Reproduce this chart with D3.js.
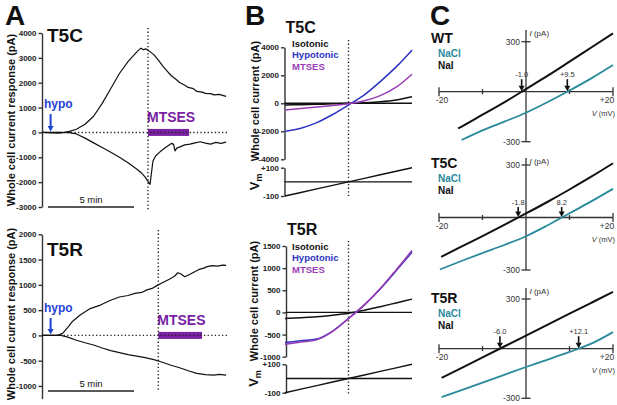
<!DOCTYPE html>
<html lang="en">
<head>
<meta charset="UTF-8">
<title>T5C / T5R hypotonic currents</title>
<script src="https://d3js.org/d3.v7.min.js"></script>
<style>
  body{margin:0;background:#fff;}
  svg text{font-family:"Liberation Sans",Arial,Helvetica,sans-serif;}
  .ax path,.ax line{stroke:#333;stroke-width:1.4;}
  .ax text{font-size:8px;font-weight:bold;fill:#222;}
  .dot{stroke:#222;stroke-width:1.4;stroke-dasharray:1.3,2.3;fill:none;}
  .b{font-weight:bold;}
</style>
</head>
<body>
<svg id="fig" width="617" height="405"></svg>
<script>
// ---------- A: whole cell current response (pA) vs time (min) ----------
const aT5cUpT = [0,0.5,1,1.3,1.6,2,2.5,3,3.5,4,4.5,5,5.3,5.6,5.75,5.9,6.05,6.2,6.5,6.8,7,7.3,7.5,7.8,8,8.3,8.5,8.8,9,9.3,9.5,9.8,10,10.3,10.5,10.7];
const aT5cUp  = [0,-20,-30,0,40,130,330,650,1170,1770,2370,2850,3080,3300,3390,3330,3360,3290,3130,2880,2690,2450,2290,2130,2010,1900,1810,1760,1650,1620,1570,1560,1510,1530,1490,1450];
const aT5cLoT = [0,1,1.6,2,2.5,3,3.5,4,4.5,5,5.5,5.75,6,6.15,6.28,6.35,6.45,6.6,6.86,7.2,7.54,7.65,7.73,7.85,8.02,8.3,8.6,8.9,9.2,9.5,9.8,10.1,10.4,10.7];
const aT5cLo  = [0,0,-10,-60,-230,-420,-610,-800,-1000,-1220,-1470,-1610,-1800,-1960,-2090,-1700,-1150,-950,-780,-600,-440,-480,-740,-620,-580,-500,-470,-420,-375,-430,-470,-400,-440,-390];
const aT5rUpT = [0,0.9,1.2,1.5,1.75,2.2,2.8,3.4,3.95,4.5,5,5.4,5.8,6.1,6.4,6.7,7,7.4,7.7,7.9,8.05,8.3,8.6,9.1,9.4,9.6,9.9,10.2,10.5,10.7];
const aT5rUp  = [0,0,40,160,270,400,530,600,690,760,790,830,850,900,930,990,1040,1110,1170,1240,1220,1160,1210,1300,1330,1360,1380,1370,1390,1385];
const aT5rLoT = [0,1.1,1.5,2,2.5,3,3.5,4,4.5,5,5.5,6,6.5,7,7.5,8,8.5,9,9.5,10,10.3,10.7];
const aT5rLo  = [0,0,-35,-95,-145,-190,-250,-300,-340,-380,-410,-440,-480,-530,-590,-640,-700,-750,-775,-785,-770,-785];
const aT5cTicks = [4000,3000,2000,1000,0,-1000,-2000,-3000];
const aT5rTicks = [2000,1500,1000,500,0,-500,-1000];
const hypoT = 0.5;
const mtsesT5c = [6.16,8.55];
const mtsesT5r = [6.76,9.3];
const scaleBarMin = [0.35,5.35];

// ---------- B: current during voltage ramp ----------
const rampV    = [-100,-75,-50,-25,0,25,50,75,100];
const bT5cIso  = [-120,-95,-70,-40,-5,40,110,240,470];
const bT5cHypo = [-2000,-1780,-1380,-800,-120,600,1550,2600,3800];
const bT5cMts  = [-480,-370,-260,-150,-30,180,550,1150,2080];
const bT5rIso  = [-136,-120,-100,-65,-20,50,130,215,300];
const bT5rHypo = [-680,-640,-600,-420,-135,170,530,940,1360];
const bT5rMts  = [-720,-670,-620,-430,-140,170,540,960,1400];
const bT5cTicks = [4000,2000,0,-2000,-4000];
const bT5rTicks = [1500,1000,500,0,-500,-1000];
const vmTicks = [100,-100];
const legendNames = ['Isotonic','Hypotonic','MTSES'];

// ---------- C: I-V in NaCl vs NaI ----------
const cWtNaIV   = [-15.6,-15,-10,-5,0,5,10,15,20];
const cWtNaI    = [-220,-212,-138,-64,16,96,180,265,350];
const cWtNaClV  = [-14.8,-10,-5,0,5,10,15,20];
const cWtNaCl   = [-290,-232,-180,-126,-62,7,80,160];
const cT5cNaIV  = [-19.5,-15,-10,-5,0,5,10,15,20];
const cT5cNaI   = [-225,-168,-106,-42,23,90,160,233,310];
const cT5cNaClV = [-19.8,-15,-10,-5,0,5,10,15,20];
const cT5cNaCl  = [-297,-250,-203,-157,-107,-44,24,92,164];
const cT5rNaIV  = [-19.4,-15,-10,-5,0,5,10,15,20];
const cT5rNaI   = [-177,-119,-53,13,79,145,211,277,343];
const cT5rNaClV = [-19.4,-15,-10,-5,0,5,10,15,20];
const cT5rNaCl  = [-293,-252,-205,-158,-111,-66,-20,30,100];
const cWtErev = [-1.0,9.5],  cWtErevLbl = ['-1.0','+9.5'];
const cT5cErev = [-1.8,8.2], cT5cErevLbl = ['-1.8','8.2'];
const cT5rErev = [-6.0,12.1], cT5rErevLbl = ['-6.0','+12.1'];

const BLUE = '#2d33c2', PURPLE = '#9a3cb4', HYPO = '#1e44d6', MTS = '#7a22a3', TEAL = '#2a8a9c';
const svg = d3.select('#fig');

function txt(g, x, y, s, size, opt){
  opt = opt || {};
  return g.append('text').attr('x',x).attr('y',y).text(s)
    .attr('font-size',size)
    .attr('font-weight',opt.bold ? 'bold' : 'normal')
    .attr('fill',opt.fill || '#111')
    .attr('text-anchor',opt.anchor || 'start')
    .attr('font-style',opt.italic ? 'italic' : null);
}
function rotLabel(g, x, y, s, size){
  return g.append('text').attr('transform','translate('+x+','+y+') rotate(-90)')
    .attr('text-anchor','middle').attr('font-size',size).attr('font-weight','bold')
    .attr('fill','#111').text(s);
}
function downArrow(g, x, y1, y2, color, w){
  g.append('line').attr('x1',x).attr('x2',x).attr('y1',y1).attr('y2',y2-4)
    .attr('stroke',color).attr('stroke-width',w);
  g.append('path').attr('d','M'+(x-3)+','+(y2-5.5)+'L'+(x+3)+','+(y2-5.5)+'L'+x+','+y2+'Z')
    .attr('fill',color);
}

// panel letters
txt(svg,5,25,'A',28,{bold:true});
txt(svg,245,25,'B',28,{bold:true});
txt(svg,430,25,'C',28,{bold:true});

// ---------- panel A ----------
const xA = d3.scaleLinear().domain([0,10.8]).range([42,227.8]);

function panelA(c){
  let g = svg.append('g');
  let y = d3.scaleLinear().domain(c.dom).range(c.rng);
  g.append('g').attr('class','ax').attr('transform','translate(42,0)')
    .call(d3.axisLeft(y).tickValues(c.ticks).tickSize(3.5).tickSizeOuter(0).tickPadding(2).tickFormat(d=>String(d)));
  rotLabel(g,15,c.labY,'Whole cell current response (pA)',11);
  txt(g,47,c.titleY,c.title,19,{bold:true});

  // MTSES bar + text
  g.append('rect').attr('x',xA(c.mts[0])).attr('width',xA(c.mts[1])-xA(c.mts[0]))
    .attr('y',y(0)-3.5).attr('height',7).attr('fill',MTS);
  txt(g,xA(c.mts[0])-1,y(0)-10,'MTSES',14,{bold:true,fill:MTS});
  // dotted zero line and application line
  g.append('line').attr('class','dot').attr('x1',xA(0)).attr('x2',xA(10.8)).attr('y1',y(0)).attr('y2',y(0));
  g.append('line').attr('class','dot').attr('x1',xA(c.mts[0])).attr('x2',xA(c.mts[0]))
    .attr('y1',c.vTop).attr('y2',c.vBot);

  let line = d3.line().x(d=>xA(d[0])).y(d=>y(d[1]));
  [d3.zip(c.upT,c.up), d3.zip(c.loT,c.lo)].forEach(d=>{
    g.append('path').datum(d).attr('d',line).attr('fill','none')
      .attr('stroke','#111').attr('stroke-width',1.2).attr('stroke-linejoin','round');
  });

  // hypo arrow
  txt(g,44,c.hypoY,'hypo',12,{bold:true,fill:HYPO});
  downArrow(g,xA(hypoT),c.hypoY+6,y(0)-1,HYPO,2);

  // 5 min scale bar
  g.append('line').attr('x1',xA(scaleBarMin[0])).attr('x2',xA(scaleBarMin[1]))
    .attr('y1',c.barY).attr('y2',c.barY).attr('stroke','#222').attr('stroke-width',1.3);
  txt(g,(xA(scaleBarMin[0])+xA(scaleBarMin[1]))/2,c.barY-4.5,'5 min',9.5,{anchor:'middle'});
}

panelA({dom:[-3000,4000],rng:[207,33],ticks:aT5cTicks,labY:120,title:'T5C',titleY:42,
  mts:mtsesT5c,vTop:28,vBot:210,upT:aT5cUpT,up:aT5cUp,loT:aT5cLoT,lo:aT5cLo,hypoY:108,barY:207});
panelA({dom:[-1250,2000],rng:[398.6,234.3],ticks:aT5rTicks,labY:314,title:'T5R',titleY:256,
  mts:mtsesT5r,vTop:230,vBot:390,upT:aT5rUpT,up:aT5rUp,loT:aT5rLoT,lo:aT5rLo,hypoY:312,barY:391});

// ---------- panel B ----------
const xB = d3.scaleLinear().domain([-100,100]).range([285,412]);

function panelB(c){
  let g = svg.append('g');
  let y = d3.scaleLinear().domain(c.iDom).range(c.iRng);
  let vm = d3.scaleLinear().domain([-100,100]).range(c.vmRng);
  g.append('g').attr('class','ax').attr('transform','translate('+c.axX+',0)')
    .call(d3.axisLeft(y).tickValues(c.ticks).tickSize(3.5).tickSizeOuter(0).tickPadding(2).tickFormat(d=>String(d)));
  g.append('g').attr('class','ax').attr('transform','translate('+c.axX+',0)')
    .call(d3.axisLeft(vm).tickValues(vmTicks).tickSize(3.5).tickSizeOuter(0).tickPadding(2).tickFormat(d=>(d>0?'+':'')+d));

  txt(g,c.axX+1,c.titleY,c.title,16,{bold:true});
  rotLabel(g,c.labX,c.labY,'Whole cell current (pA)',11);
  let vl = g.append('text').attr('transform','translate('+c.labX+','+vm(0)+') rotate(-90)')
    .attr('text-anchor','middle').attr('font-weight','bold').attr('fill','#111');
  vl.append('tspan').attr('font-size',13).text('V');
  vl.append('tspan').attr('font-size',9).attr('dy',3).text('m');

  // zero lines
  [y(0), vm(0)].forEach(yy=>{
    g.append('line').attr('x1',c.axX).attr('x2',xB(100)).attr('y1',yy).attr('y2',yy)
      .attr('stroke','#111').attr('stroke-width',1.4);
  });
  g.append('line').attr('class','dot').attr('x1',xB(0)).attr('x2',xB(0))
    .attr('y1',c.dTop).attr('y2',c.dBot);

  let line = d3.line().x(d=>xB(d[0])).y(d=>y(d[1])).curve(d3.curveMonotoneX);
  [[c.iso,'#111'],[c.hypo,BLUE],[c.mts,PURPLE]].forEach(s=>{
    g.append('path').datum(d3.zip(rampV,s[0])).attr('d',line).attr('fill','none')
      .attr('stroke',s[1]).attr('stroke-width',1.5);
  });
  // voltage ramp
  g.append('path').datum(d3.zip(rampV,rampV))
    .attr('d',d3.line().x(d=>xB(d[0])).y(d=>vm(d[1])))
    .attr('fill','none').attr('stroke','#111').attr('stroke-width',1.4);

  legendNames.forEach((n,i)=>{
    txt(g,292,c.legY+i*11.3,n,9.5,{bold:true,fill:['#111',BLUE,PURPLE][i]});
  });
}

panelB({iDom:[-4000,4000],iRng:[159.3,47.3],vmRng:[196,167.7],ticks:bT5cTicks,axX:284.5,
  title:'T5C',titleY:33,labX:259,labY:101,dTop:40,dBot:198,iso:bT5cIso,hypo:bT5cHypo,mts:bT5cMts,legY:47});
panelB({iDom:[-1000,1500],iRng:[356.7,246],vmRng:[392.7,364.3],ticks:bT5rTicks,axX:286,
  title:'T5R',titleY:235,labX:258,labY:301,dTop:241,dBot:394,iso:bT5rIso,hypo:bT5rHypo,mts:bT5rMts,legY:250});

// ---------- panel C ----------
const xC = d3.scaleLinear().domain([-20,20]).range([439,613]);

function panelC(c){
  let g = svg.append('g');
  let y = d3.scaleLinear().domain([-300,300]).range(c.yRng);
  let y0 = y(0), x0 = xC(0), ax = '#333';
  let seg = (x1,y1,x2,y2,w)=>g.append('line').attr('x1',x1).attr('y1',y1).attr('x2',x2).attr('y2',y2)
    .attr('stroke',ax).attr('stroke-width',w);
  seg(xC(-20),y0,xC(20),y0,1.3);
  seg(x0,c.yTop,x0,y(-300),1.3);
  [-20,20].forEach(v=>seg(xC(v),y0-4.5,xC(v),y0+4.5,1.3));
  [-10,10].forEach(v=>seg(xC(v),y0-2.5,xC(v),y0+2.5,1.3));
  [-300,300].forEach(v=>seg(x0-4.5,y(v),x0+4.5,y(v),1.3));

  txt(g,x0-6,y(300)+3,'300',8.5,{anchor:'end',fill:'#333'});
  txt(g,x0-6,y(-300)+3,'-300',8.5,{anchor:'end',fill:'#333'});
  txt(g,xC(-20)+3,y0+11.5,'-20',8.5,{anchor:'middle',fill:'#333'});
  txt(g,xC(20)-6,y0+11.5,'+20',8.5,{anchor:'middle',fill:'#333'});
  let vt = txt(g,615,y0+24.5,'',7.5,{anchor:'end',fill:'#333'});
  vt.append('tspan').attr('font-style','italic').text('V');
  vt.append('tspan').text(' (mV)');
  let it = txt(g,x0+3.5,c.yTop+6,'',8,{fill:'#333'});
  it.append('tspan').attr('font-style','italic').text('I');
  it.append('tspan').text(' (pA)');

  txt(g,431,c.titleY,c.title,14,{bold:true});
  txt(g,438,c.titleY+14,'NaCl',10,{bold:true,fill:TEAL});
  txt(g,438,c.titleY+25.5,'NaI',10,{bold:true});

  let line = d3.line().x(d=>xC(d[0])).y(d=>y(d[1])).curve(d3.curveMonotoneX);
  g.append('path').datum(d3.zip(c.naclV,c.nacl)).attr('d',line).attr('fill','none')
    .attr('stroke',TEAL).attr('stroke-width',1.8);
  g.append('path').datum(d3.zip(c.naiV,c.nai)).attr('d',line).attr('fill','none')
    .attr('stroke','#111').attr('stroke-width',2);

  c.erev.forEach((v,i)=>{
    txt(g,xC(v),y0-c.lblOff,c.erevLbl[i],7.5,{anchor:'middle',fill:'#333'});
    downArrow(g,xC(v),y0-c.lblOff+2,y0-0.5,'#111',1.6);
  });
}

panelC({yRng:[141.7,41.7],yTop:30,title:'WT',titleY:43,naiV:cWtNaIV,nai:cWtNaI,naclV:cWtNaClV,nacl:cWtNaCl,
  erev:cWtErev,erevLbl:cWtErevLbl,lblOff:14.5});
panelC({yRng:[270,165],yTop:158,title:'T5C',titleY:168,naiV:cT5cNaIV,nai:cT5cNaI,naclV:cT5cNaClV,nacl:cT5cNaCl,
  erev:cT5cErev,erevLbl:cT5cErevLbl,lblOff:12.5});
panelC({yRng:[398.3,299],yTop:288,title:'T5R',titleY:303,naiV:cT5rNaIV,nai:cT5rNaI,naclV:cT5rNaClV,nacl:cT5rNaCl,
  erev:cT5rErev,erevLbl:cT5rErevLbl,lblOff:14.5});
</script>
</body>
</html>
